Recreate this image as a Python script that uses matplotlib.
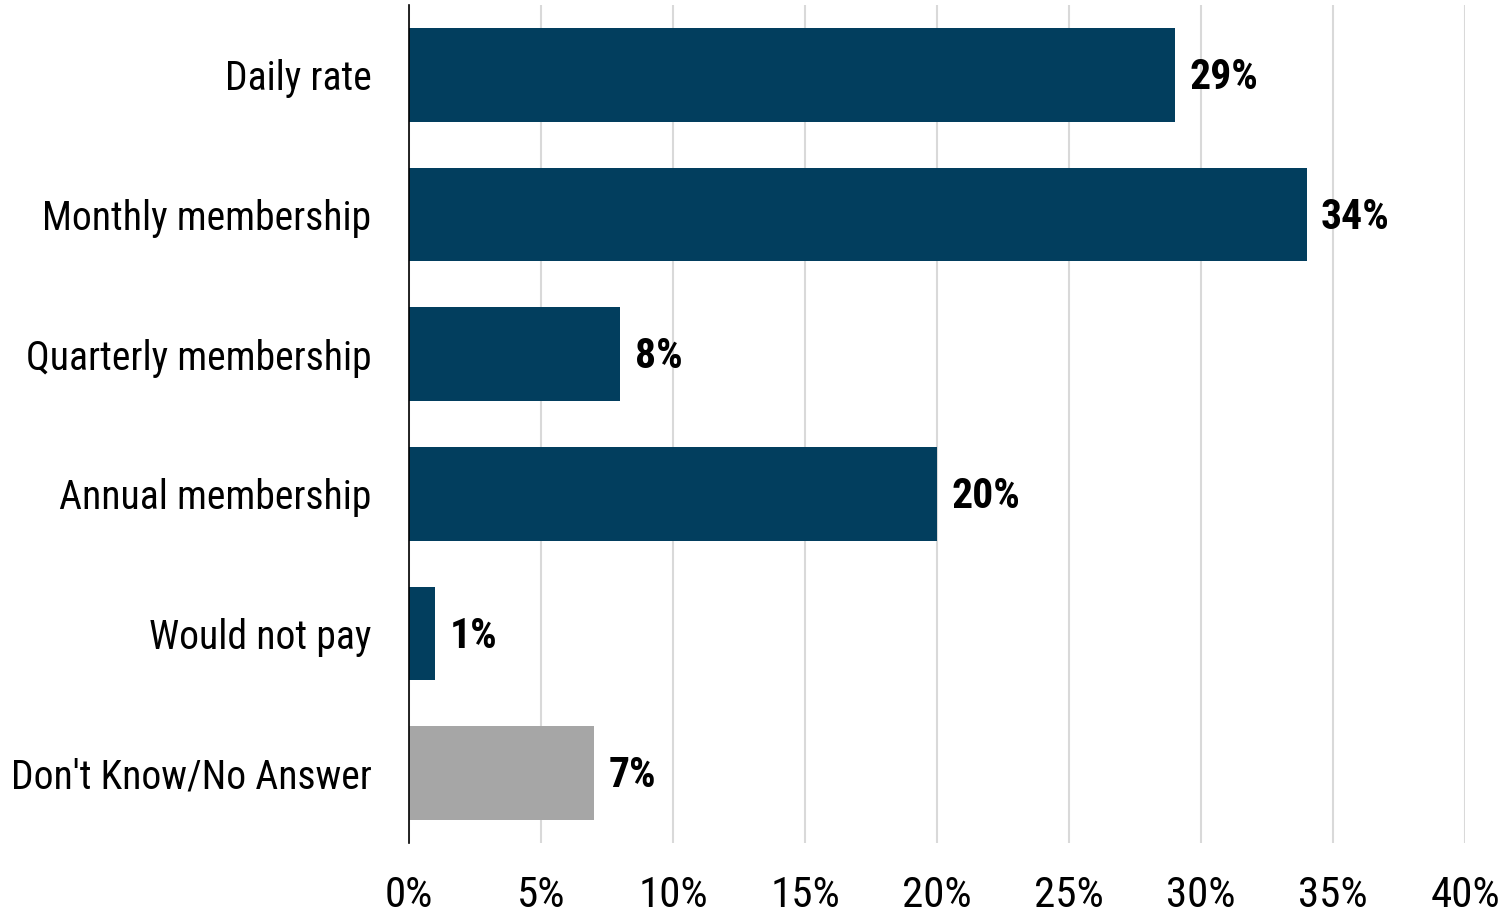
import matplotlib
matplotlib.use("Agg")
import matplotlib.pyplot as plt
from matplotlib import font_manager

categories = ["Daily rate", "Monthly membership", "Quarterly membership",
              "Annual membership", "Would not pay", "Don't Know/No Answer"]
values = [29, 34, 8, 20, 1, 7]
colors = ["#023E5E"] * 5 + ["#A6A6A6"]
xticks = [0, 5, 10, 15, 20, 25, 30, 35, 40]
xtick_labels = [f"{t}%" for t in xticks]

names = {f.name for f in font_manager.fontManager.ttflist}
fam = "Roboto"
ysize, xsize, vsize = 25, 26, 26
for cand in ["Liberation Sans Narrow", "Roboto Condensed", "Open Sans Condensed"]:
    if cand in names:
        fam = cand
        ysize, xsize, vsize = 28.5, 31, 30
        break
plt.rcParams["font.family"] = [fam, "DejaVu Sans"]

fig = plt.figure(figsize=(15.11, 9.23), dpi=100)
ax = fig.add_axes([409/1511, 1 - 843/923, (1465 - 409)/1511, (843 - 5)/923])

y = list(range(len(categories)))
ax.barh(y, values, height=0.67, color=colors, zorder=3)
for yi, v in zip(y, values):
    ax.text(v + 0.55, yi + 0.02, f"{v}%", va="center", ha="left", fontsize=vsize,
            fontweight="bold", color="black")

ax.set_ylim(len(categories) - 0.5, -0.5)
ax.set_xlim(0, 40)
ax.set_yticks(y)
ax.set_yticklabels(categories, fontsize=ysize)
ax.set_xticks(xticks)
ax.set_xticklabels(xtick_labels, fontsize=xsize)
ax.tick_params(axis="y", length=0, pad=27)
ax.tick_params(axis="x", length=0, pad=23)
ax.grid(axis="x", color="#D9D9D9", linewidth=1.5, zorder=0)
for s in ["top", "right", "bottom"]:
    ax.spines[s].set_visible(False)
ax.spines["left"].set_color("black")
ax.spines["left"].set_linewidth(1.2)
ax.spines["left"].set_zorder(4)

fig.savefig("out.png", dpi=100)
